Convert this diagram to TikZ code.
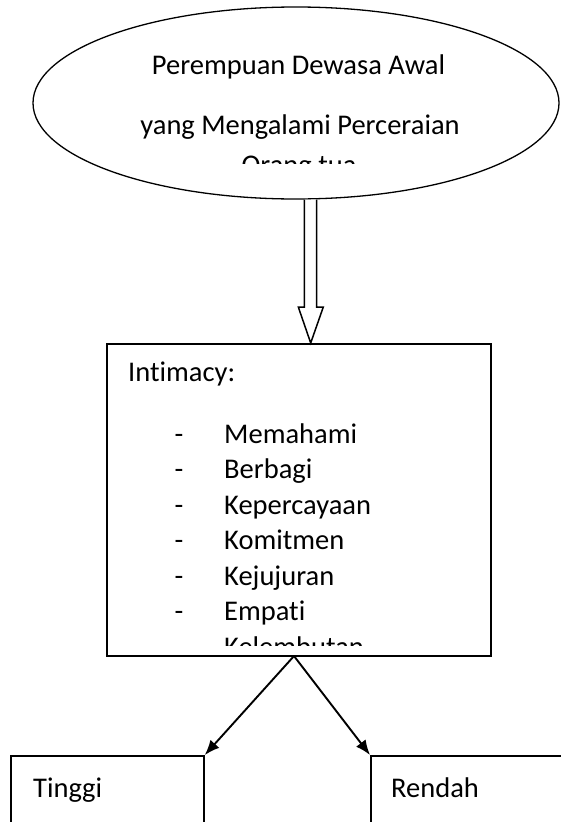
\documentclass[tikz,border=0pt]{standalone}
\usepackage{fontspec}
\setmainfont{Carlito}[Ligatures=NoCommon]
\usetikzlibrary{shapes.geometric,arrows.meta,calc}
\begin{document}
\begin{tikzpicture}[x=1pt,y=-1pt,
  txt/.style={inner sep=0pt,anchor=base,font=\fontsize{28.5}{34}\selectfont},
  txtl/.style={txt,anchor=base west},
  boxline/.style={draw,line width=1.9pt},
  conn/.style={line width=1.9pt,-{Latex[length=15pt,width=12pt]}},
  hollow/.style={draw,line width=1.5pt,fill=white,line join=miter}]
\fill[white] (0,0) rectangle (560,822);
\useasboundingbox (0,0) rectangle (560,822);
% source ellipse
\node[ellipse,draw,line width=1.3pt,minimum width=526pt,minimum height=192pt,inner sep=0pt] (src) at (296,103) {};
\begin{scope}
\clip (0,0) rectangle (560,163);
\node[txt] (l1) at (298.5,74.5) {Perempuan Dewasa Awal};
\node[txt] (l2) at (300,134) {yang Mengalami Perceraian};
\node[txt] (l3) at (299,174.5) {Orang tua};
\end{scope}
% intimacy box
\node[boxline,minimum width=384pt,minimum height=312pt,inner sep=0pt] (intim) at (299,500) {};
% hollow arrow
\coordinate (tip) at (310.7,343);
\draw[hollow] (304.3,199.5) -- (304.3,307) -- (298.3,307) -- (tip) -- (323.3,307) -- (316.7,307) -- (316.7,199.5);
\begin{scope}
\clip (108,345) rectangle (490,645);
\node[txtl] (hd) at (128,381) {Intimacy:};
\foreach \t [count=\i from 0] in {Memahami,Berbagi,Kepercayaan,Komitmen,Kejujuran,Empati,Kelembutan}{
  \node[txtl] (d\i) at (174.5,443+35.5*\i) {-};
  \node[txtl] (it\i) at (224,443+35.5*\i) {\t};
}
\end{scope}
% bottom boxes
\node[boxline,minimum width=193pt,minimum height=120pt,inner sep=0pt] (tinggi) at (107.3,816) {};
\node[boxline,minimum width=193pt,minimum height=120pt,inner sep=0pt] (rendah) at (467.5,816) {};
\node[txtl] (tt) at (33,797.5) {Tinggi};
\node[txtl] (rt) at (391,797.5) {Rendah};
% connectors
\coordinate (split) at (294,656);
\draw[conn] (split) -- (tinggi.north east);
\draw[conn] (split) -- (rendah.north west);
\end{tikzpicture}
\end{document}
